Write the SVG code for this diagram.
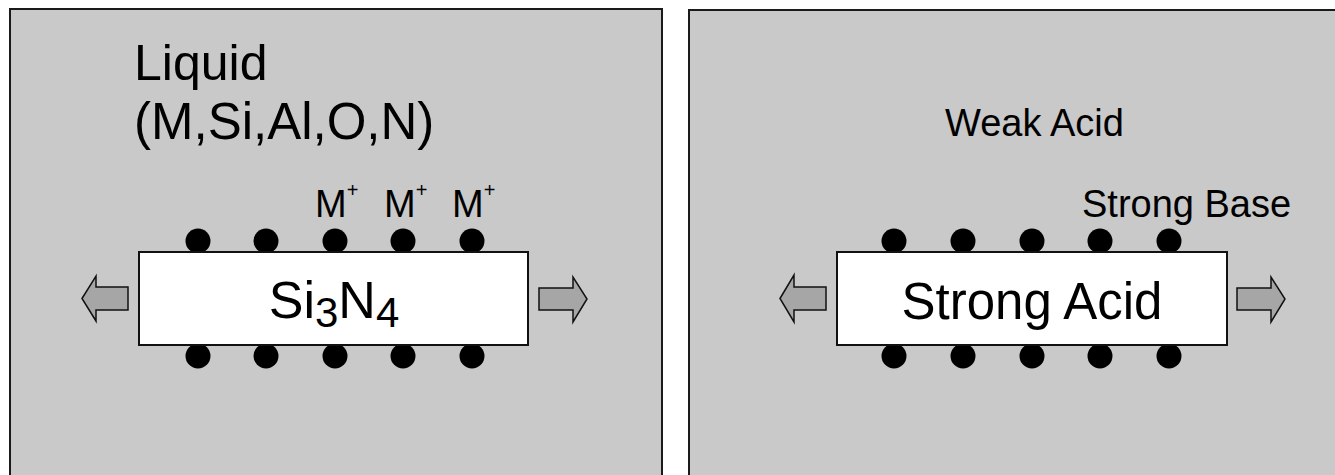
<svg xmlns="http://www.w3.org/2000/svg" width="1335" height="475" viewBox="0 0 1335 475">
<defs>
<style>
.panel{fill:#c9c9c9;stroke:#1a1a1a;stroke-width:2}
.box{fill:#ffffff;stroke:#111111;stroke-width:2}
.dot{fill:#000000}
.arr{fill:#a6a6a6;stroke:#111111;stroke-width:1.5;stroke-linejoin:miter}
.t{font-family:"Liberation Sans",Arial,sans-serif;fill:#000000}
</style>
</defs>
<rect width="1335" height="475" fill="#ffffff"/>
<g id="panel-left">
<rect class="panel" x="10" y="9" width="652" height="480"/>
<text class="t" x="134" y="80" font-size="50">Liquid</text>
<text class="t" x="134" y="139" font-size="51">(M,Si,Al,O,N)</text>
</g>
<g id="panel-right">
<rect class="panel" x="689" y="10" width="660" height="480"/>
<text class="t" x="945" y="136" font-size="38">Weak Acid</text>
<text class="t" x="1082" y="217" font-size="38">Strong Base</text>
</g>
<g id="ions">
<text class="t" x="315" y="217" font-size="38">M<tspan font-size="20" dy="-20">+</tspan></text>
<text class="t" x="384" y="217" font-size="38">M<tspan font-size="20" dy="-20">+</tspan></text>
<text class="t" x="452" y="217" font-size="38">M<tspan font-size="20" dy="-20">+</tspan></text>
</g>
<g id="si3n4">
<g class="dot">
<circle cx="198" cy="241" r="12.5"/><circle cx="266" cy="241" r="12.5"/><circle cx="335" cy="241" r="12.5"/><circle cx="403" cy="241" r="12.5"/><circle cx="472" cy="241" r="12.5"/>
<circle cx="198" cy="356" r="12.5"/><circle cx="266" cy="356" r="12.5"/><circle cx="335" cy="356" r="12.5"/><circle cx="403" cy="356" r="12.5"/><circle cx="472" cy="356" r="12.5"/>
</g>
<rect class="box" x="139" y="252" width="389" height="93"/>
<text class="t" x="334" y="318" font-size="52" text-anchor="middle">Si<tspan font-size="42" dy="9">3</tspan><tspan dy="-9">N</tspan><tspan font-size="42" dy="9">4</tspan></text>
</g>
<g id="strong-acid">
<g class="dot">
<circle cx="894" cy="241" r="12.5"/><circle cx="963" cy="241" r="12.5"/><circle cx="1032" cy="241" r="12.5"/><circle cx="1100" cy="241" r="12.5"/><circle cx="1169" cy="241" r="12.5"/>
<circle cx="894" cy="356" r="12.5"/><circle cx="963" cy="356" r="12.5"/><circle cx="1032" cy="356" r="12.5"/><circle cx="1100" cy="356" r="12.5"/><circle cx="1169" cy="356" r="12.5"/>
</g>
<rect class="box" x="837" y="252" width="390" height="93"/>
<text class="t" x="1032" y="319" font-size="51" text-anchor="middle">Strong Acid</text>
</g>
<g id="connectors">
<polygon class="arr" points="82,298.5 96,276 96,287 128,287 128,310 96,310 96,321"/>
<polygon class="arr" points="539,288 573,288 573,277 587,299 573,322 573,310 539,310"/>
<polygon class="arr" points="780,298.5 794,275 794,287 826,287 826,310 794,310 794,322"/>
<polygon class="arr" points="1237,288 1271,288 1271,277 1285,299 1271,322 1271,310 1237,310"/>
</g>
</svg>
